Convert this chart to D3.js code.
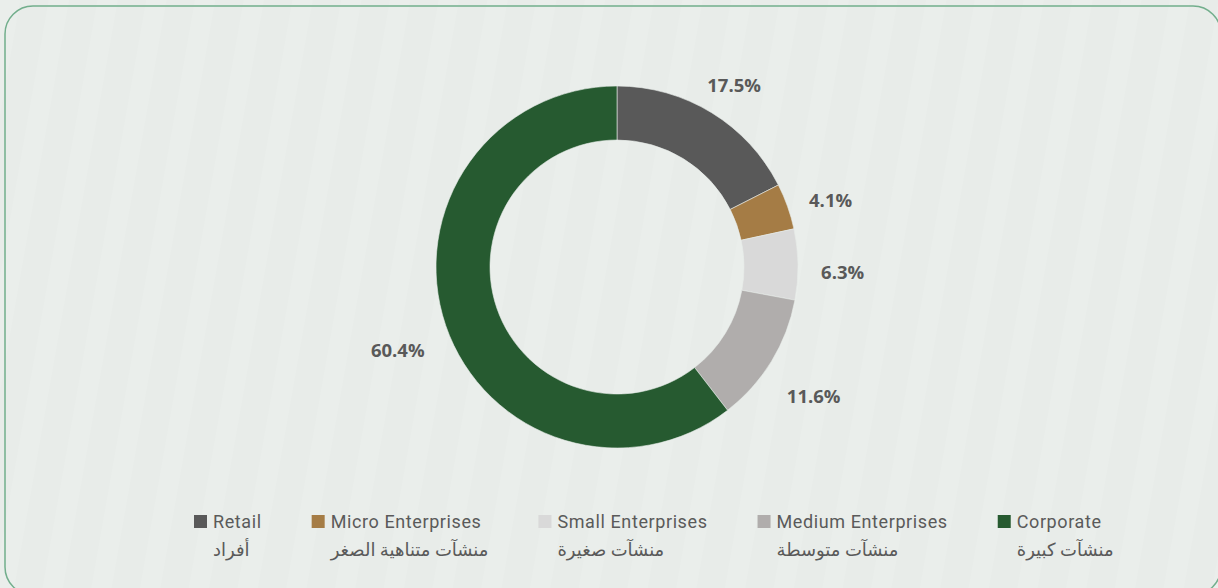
<!DOCTYPE html>
<html><head><meta charset="utf-8">
<script src="https://cdn.jsdelivr.net/npm/d3@7"></script>
<style>
html,body{margin:0;padding:0;background:#e8ece9;}
svg{display:block;}
</style></head>
<body>
<svg id="chart" width="1218" height="588"></svg>
<script>
const categories = ["Retail","Micro Enterprises","Small Enterprises","Medium Enterprises","Corporate"];
const categoriesAr = ["أفراد","منشآت متناهية الصغر","منشآت صغيرة","منشآت متوسطة","منشآت كبيرة"];
const values = [17.5, 4.1, 6.3, 11.6, 60.4];
const valueLabels = ["17.5%","4.1%","6.3%","11.6%","60.4%"];
const colors = ["#595959","#a57c45","#d9d9d9","#b0adac","#265a30"];

const W = 1218, H = 588;
const svg = d3.select("#chart");

// background with very faint diagonal stripes
const defs = svg.append("defs");
const pat = defs.append("pattern").attr("id","stripes").attr("patternUnits","userSpaceOnUse")
  .attr("width",48).attr("height",48).attr("patternTransform","rotate(10)");
pat.append("rect").attr("width",48).attr("height",48).attr("fill","#e8ece9");
pat.append("rect").attr("x",0).attr("width",20).attr("height",48).attr("fill","#eaeeeb");
svg.append("rect").attr("width",W).attr("height",H).attr("fill","url(#stripes)");

// rounded frame
svg.append("rect").attr("x",5).attr("y",6).attr("width",1216).attr("height",589)
  .attr("rx",28).attr("ry",28).attr("fill","none").attr("stroke","#72ae8c").attr("stroke-width",1.5);

const cx = 617, cy = 267, outerR = 181, innerR = 127;
const pie = d3.pie().sort(null).value(d => d)(values);
const arc = d3.arc().innerRadius(innerR).outerRadius(outerR);
const g = svg.append("g").attr("transform",`translate(${cx},${cy})`);
g.selectAll("path").data(pie).join("path")
  .attr("d", arc).attr("fill",(d,i)=>colors[i])
  .attr("stroke","#e8ece9").attr("stroke-width",0.6);

// labels
const lblFont = "'Open Sans','Liberation Sans',sans-serif";
const lblSize = 18.5;
const labels = g.selectAll("text.lbl").data(pie).join("text").attr("class","lbl")
  .attr("font-family",lblFont).attr("font-weight","bold").attr("font-size",lblSize)
  .attr("fill","#595959").attr("text-anchor","middle").attr("dominant-baseline","central")
  .text((d,i)=>valueLabels[i]);
const gap = 204, textH = 14, dy = 8;
labels.each(function(d){
  const w = this.getComputedTextLength();
  const a = (d.startAngle + d.endAngle)/2;
  const s = Math.sin(a), c = -Math.cos(a);
  const off = w/2*Math.abs(s) + textH/2*Math.abs(c);
  const r = gap + off;
  d3.select(this).attr("x", r*s).attr("y", r*c + dy);
});

// legend
const legFont = "Roboto,'DejaVu Sans',sans-serif";
const leg = svg.append("g");
let x = 194;
categories.forEach((cat,i)=>{
  const it = leg.append("g").attr("transform",`translate(${x},0)`);
  it.append("rect").attr("x",0).attr("y",515).attr("width",13).attr("height",13).attr("fill",colors[i]);
  const t1 = it.append("text").attr("x",19).attr("y",528).attr("font-family",legFont)
    .attr("font-size",18).attr("letter-spacing",0.6).attr("fill","#5a5a5a").text(cat);
  const t2 = it.append("text").attr("x",19).attr("y",556).attr("font-family",legFont)
    .attr("font-size",18).attr("fill","#5a5a5a").text(categoriesAr[i]);
  const w = Math.max(t1.node().getComputedTextLength(), t2.node().getComputedTextLength());
  x += 19 + w + 50;
});
</script>
</body></html>
